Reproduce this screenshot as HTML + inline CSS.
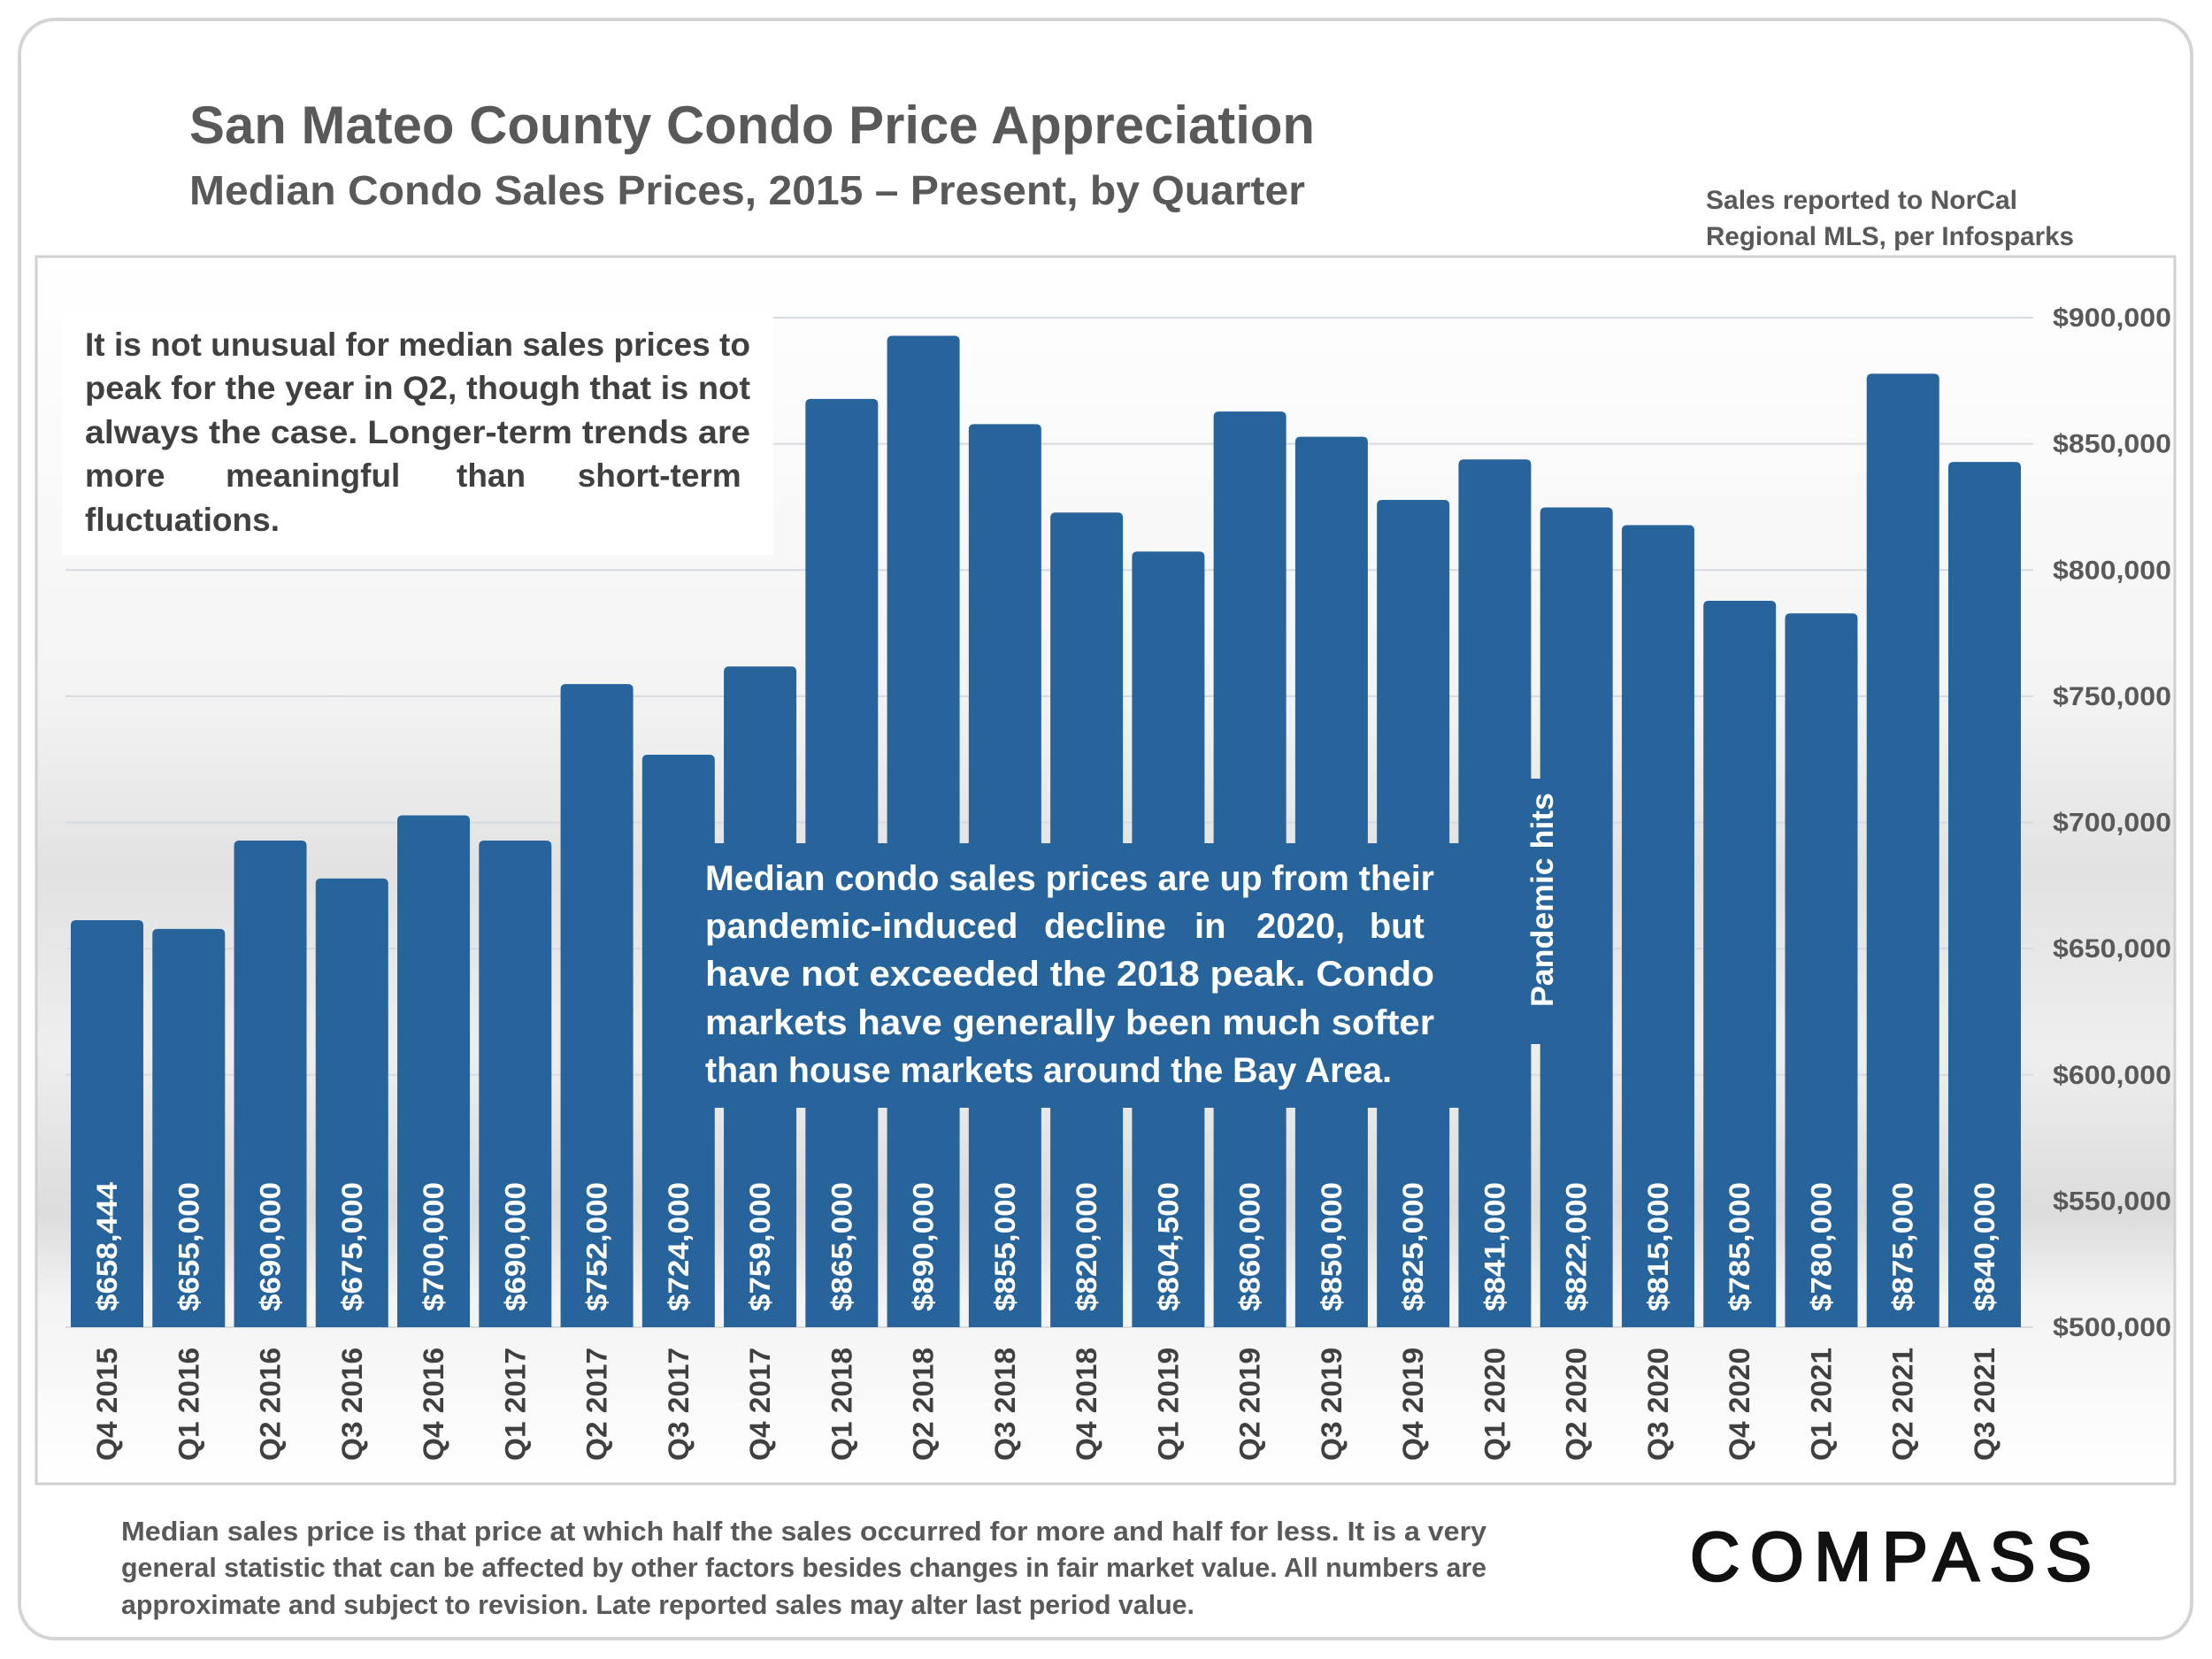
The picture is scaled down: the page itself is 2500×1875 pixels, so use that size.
<!DOCTYPE html>
<html><head><meta charset="utf-8">
<style>
html,body{margin:0;padding:0;background:#fff;}
svg{display:block;font-family:"Liberation Sans",sans-serif;}
</style></head>
<body>
<svg id="chart" width="2500" height="1875" viewBox="0 0 2500 1875" xmlns="http://www.w3.org/2000/svg">
<defs>
<linearGradient id="bg" x1="0" y1="0" x2="0" y2="1">
<stop offset="0" stop-color="#ffffff"/>
<stop offset="0.35" stop-color="#f4f4f4"/>
<stop offset="0.5" stop-color="#e2e2e2"/>
<stop offset="0.65" stop-color="#eeeeee"/>
<stop offset="0.78" stop-color="#dcdcdc"/>
<stop offset="0.85" stop-color="#f3f3f3"/>
<stop offset="1" stop-color="#ffffff"/>
</linearGradient>
</defs>
<rect x="22" y="22" width="2455" height="1830" rx="40" fill="#fff" stroke="#d4d4d4" stroke-width="4"/>
<text x="214" y="162" font-size="60" font-weight="bold" fill="#595959" textLength="1272" lengthAdjust="spacingAndGlyphs">San Mateo County Condo Price Appreciation</text>
<text x="214" y="231" font-size="46" font-weight="bold" fill="#595959" textLength="1261" lengthAdjust="spacingAndGlyphs">Median Condo Sales Prices, 2015 – Present, by Quarter</text>
<text font-size="30" font-weight="bold" fill="#595959">
<tspan x="1928" y="236" textLength="352" lengthAdjust="spacingAndGlyphs">Sales reported to NorCal</tspan>
<tspan x="1928" y="277" textLength="416" lengthAdjust="spacingAndGlyphs">Regional MLS, per Infosparks</tspan>
</text>
<rect x="41" y="290" width="2417" height="1387" fill="url(#bg)" stroke="#d0d0d0" stroke-width="3"/>
<g id="grid"></g>
<g id="bars"></g>
<g id="yticks"></g>
<g id="xlabels"></g>

<rect x="70" y="351" width="804" height="276" fill="#fff"/>
<text font-size="37" font-weight="bold" fill="#404040">
<tspan x="96" y="402" textLength="752" lengthAdjust="spacingAndGlyphs">It is not unusual for median sales prices to</tspan>
<tspan x="96" y="451" textLength="752" lengthAdjust="spacingAndGlyphs">peak for the year in Q2, though that is not</tspan>
<tspan x="96" y="501" textLength="752" lengthAdjust="spacingAndGlyphs">always the case. Longer-term trends are</tspan>
<tspan x="96" y="550">more</tspan>
<tspan x="255" y="550">meaningful</tspan>
<tspan x="516" y="550">than</tspan>
<tspan x="848" y="550" text-anchor="end">short-term</tspan>
<tspan x="96" y="600" textLength="220" lengthAdjust="spacingAndGlyphs">fluctuations.</tspan>
</text>

<rect x="773" y="953" width="877" height="299" fill="#27649c"/>
<text font-size="40" font-weight="bold" fill="#fff">
<tspan x="797" y="1006" textLength="824" lengthAdjust="spacingAndGlyphs">Median condo sales prices are up from their</tspan>
<tspan x="797" y="1060">pandemic-induced</tspan>
<tspan x="1180" y="1060">decline</tspan>
<tspan x="1350" y="1060">in</tspan>
<tspan x="1420" y="1060">2020,</tspan>
<tspan x="1621" y="1060" text-anchor="end">but</tspan>
<tspan x="797" y="1114" textLength="824" lengthAdjust="spacingAndGlyphs">have not exceeded the 2018 peak. Condo</tspan>
<tspan x="797" y="1169" textLength="824" lengthAdjust="spacingAndGlyphs">markets have generally been much softer</tspan>
<tspan x="797" y="1223" textLength="776" lengthAdjust="spacingAndGlyphs">than house markets around the Bay Area.</tspan>
</text>

<rect x="1712" y="880" width="60" height="300" fill="#27649c"/>
<text transform="translate(1755,1138) rotate(-90)" font-size="35" font-weight="bold" fill="#fff" textLength="242" lengthAdjust="spacingAndGlyphs">Pandemic hits</text>

<text font-size="31" font-weight="bold" fill="#595959">
<tspan x="137" y="1741" textLength="1543" lengthAdjust="spacingAndGlyphs">Median sales price is that price at which half the sales occurred for more and half for less. It is a very</tspan>
<tspan x="137" y="1782" textLength="1543" lengthAdjust="spacingAndGlyphs">general statistic that can be affected by other factors besides changes in fair market value. All numbers are</tspan>
<tspan x="137" y="1824" textLength="1213" lengthAdjust="spacingAndGlyphs">approximate and subject to revision. Late reported sales may alter last period value.</tspan>
</text>
<text x="1910" y="1786" font-size="78" fill="#111" stroke="#111" stroke-width="2.5" textLength="454" lengthAdjust="spacing">COMPASS</text>
</svg>
<script>
const categories = ["Q4 2015","Q1 2016","Q2 2016","Q3 2016","Q4 2016","Q1 2017","Q2 2017","Q3 2017","Q4 2017","Q1 2018","Q2 2018","Q3 2018","Q4 2018","Q1 2019","Q2 2019","Q3 2019","Q4 2019","Q1 2020","Q2 2020","Q3 2020","Q4 2020","Q1 2021","Q2 2021","Q3 2021"];
const values = [658444,655000,690000,675000,700000,690000,752000,724000,759000,865000,890000,855000,820000,804500,860000,850000,825000,841000,822000,815000,785000,780000,875000,840000];
const yTicks = [500000,550000,600000,650000,700000,750000,800000,850000,900000];

const NS = "http://www.w3.org/2000/svg";
const yMin = 500000, yMax = 900000, yBottom = 1500, yTop = 359;
const x0 = 80, step = 92.26, barW = 82, capLift = 8;
function yScale(v){ return yBottom - (v - yMin) / (yMax - yMin) * (yBottom - yTop); }
function xScale(i){ return x0 + i * step; }
function mk(tag){ return document.createElementNS(NS, tag); }
const fmt = v => "$" + v.toLocaleString("en-US");

const grid = document.getElementById("grid");
const yt = document.getElementById("yticks");
yTicks.forEach(t => {
  const l = mk("line");
  
  
  l.setAttribute("x1", 74); l.setAttribute("x2", 2298);
  l.setAttribute("y1", yScale(t)); l.setAttribute("y2", yScale(t));
  l.setAttribute("stroke", "#d6dbe0"); l.setAttribute("stroke-width", 2);
  grid.appendChild(l);
  const tx = mk("text");
  
  
  tx.setAttribute("x", 2320); tx.setAttribute("y", yScale(t) + 10);
  tx.setAttribute("font-size", 30); tx.setAttribute("font-weight", "bold");
  tx.setAttribute("fill", "#595959");
  tx.setAttribute("textLength", 134); tx.setAttribute("lengthAdjust", "spacingAndGlyphs");
  tx.textContent = fmt(t);
  yt.appendChild(tx);
});

const bars = document.getElementById("bars");
const xl = document.getElementById("xlabels");
values.forEach((v, i) => {
  const x = xScale(i), y = yScale(v) - capLift;
  const r = mk("path");
  
  
  const rr = 6;
  r.setAttribute("d", `M${x},${yBottom} L${x},${y+rr} Q${x},${y} ${x+rr},${y} L${x+barW-rr},${y} Q${x+barW},${y} ${x+barW},${y+rr} L${x+barW},${yBottom} Z`);
  r.setAttribute("fill", "#27649c");
  bars.appendChild(r);
  const cx = x + barW / 2;
  const vl = mk("text");
  
  
  vl.setAttribute("transform", `translate(${cx + 11},1482) rotate(-90)`);
  vl.setAttribute("font-size", 32); vl.setAttribute("font-weight", "bold");
  vl.setAttribute("fill", "#fff");
  vl.setAttribute("textLength", 146); vl.setAttribute("lengthAdjust", "spacingAndGlyphs");
  vl.textContent = fmt(values[i]);
  bars.appendChild(vl);
  const cl = mk("text");
  
  
  cl.setAttribute("transform", `translate(${cx + 11},1523) rotate(-90)`);
  cl.setAttribute("text-anchor", "end");
  cl.setAttribute("font-size", 32); cl.setAttribute("font-weight", "bold");
  cl.setAttribute("fill", "#404040");
  cl.setAttribute("textLength", 128); cl.setAttribute("lengthAdjust", "spacingAndGlyphs");
  cl.textContent = categories[i];
  xl.appendChild(cl);
});
</script>
</body></html>
